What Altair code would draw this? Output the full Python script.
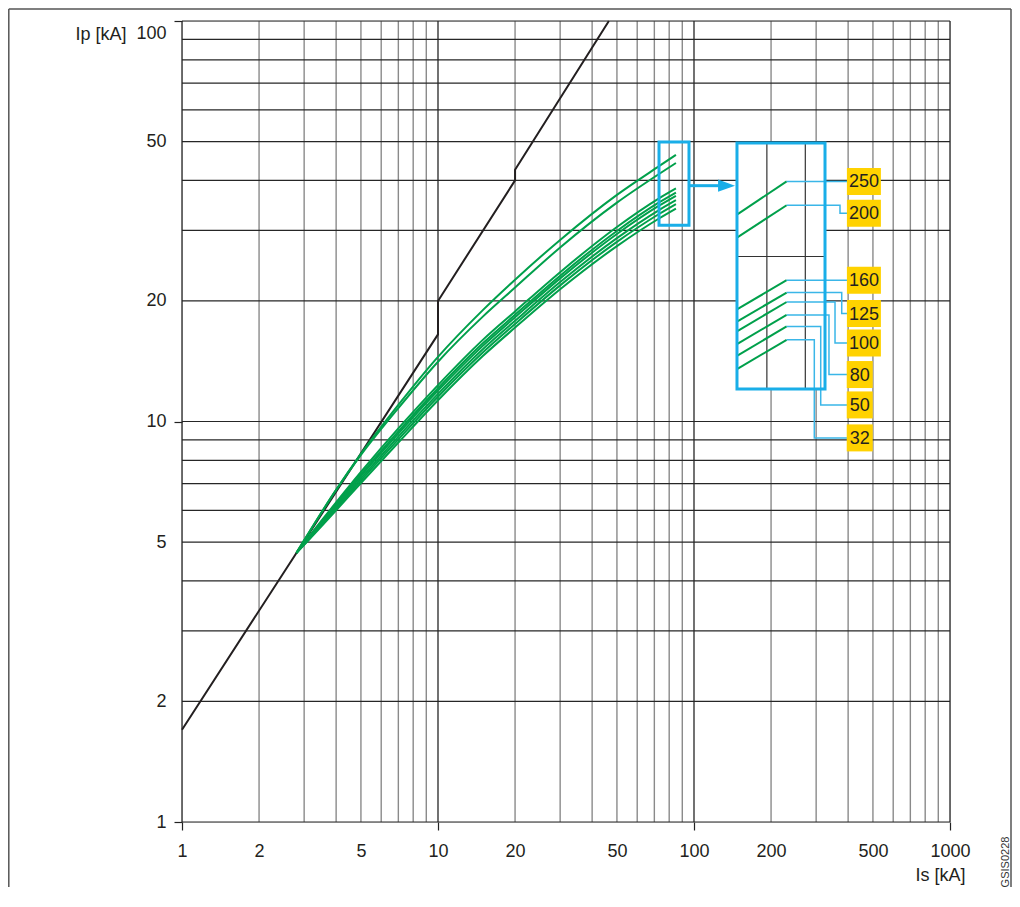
import math
import altair as alt
import pandas as pd

# ---------------- data ----------------
x_minor = [2, 3, 4, 5, 6, 7, 8, 9, 20, 30, 40, 50, 60, 70, 80, 90,
           200, 300, 400, 500, 600, 700, 800, 900]
x_major = [1, 10, 100, 1000]
y_lines = [1, 2, 3, 4, 5, 6, 7, 8, 9, 10, 20, 30, 40, 50, 60, 70, 80, 90, 100]

x_ticks = [1, 2, 5, 10, 20, 50, 100, 200, 500, 1000]
y_ticks = [1, 2, 5, 10, 20, 50, 100]

# peak-current envelope (black)
env_x = [1, 10, 10, 20, 20, 46.5]
env_y = [1.7, 16.5, 20, 40, 42.5, 100]

# let-through curves (green)
curve_x = [2.8, 3, 4, 5, 7, 10, 15, 20, 30, 50, 73, 85]
ratings = ["250", "200", "160", "125", "100", "80", "50", "32"]
curve_y = {
    "250": [4.7, 5.05, 6.75, 8.30, 11.00, 14.50, 19.00, 22.60, 28.40, 36.80, 43.40, 46.30],
    "200": [4.7, 5.05, 6.75, 8.25, 10.80, 14.10, 18.30, 21.60, 27.20, 35.20, 41.50, 44.20],
    "160": [4.7, 4.98, 6.28, 7.48, 9.61, 12.33, 16.01, 18.83, 23.60, 30.60, 36.08, 38.20],
    "125": [4.7, 4.97, 6.22, 7.38, 9.45, 12.11, 15.70, 18.47, 23.13, 29.91, 35.23, 37.29],
    "100": [4.7, 4.96, 6.17, 7.31, 9.33, 11.95, 15.47, 18.20, 22.77, 29.39, 34.58, 36.61],
    "80":  [4.7, 4.94, 6.11, 7.21, 9.17, 11.72, 15.17, 17.84, 22.29, 28.70, 33.73, 35.70],
    "50":  [4.7, 4.93, 6.06, 7.12, 9.02, 11.53, 14.89, 17.52, 21.87, 28.09, 32.97, 34.91],
    "32":  [4.7, 4.92, 6.00, 7.02, 8.86, 11.30, 14.59, 17.16, 21.39, 27.41, 32.13, 34.01],
}

# zoom window (small box) and magnified inset (big box), in kA
small_x = [73, 95.6]
small_y = [30.9, 49.9]
big_x = [147.2, 324.9]
big_y = [12.05, 49.6]
inset_grid_x = [80, 90]
inset_grid_y = [40, 50]

# arrow
arrow_x = [95.6, 125.0]
arrow_head_x = [134.0]
arrow_y = [38.8]

# leader lines and labels
leader_elbow_x = [300.0, 371.8, 300.0, 377.6, 355.5, 336.7, 312.6, 295.1]
label_y = [None, 33.1, None, 18.6, 15.7, 13.1, 11.0, 9.1]
label_left_x = 396.0
label_cx = [461, 461, 461, 461, 461, 444, 444, 444]

# ---------------- helpers ----------------
L = math.log10
kx = (L(big_x[1]) - L(big_x[0])) / (L(small_x[1]) - L(small_x[0]))
ky = (L(big_y[1]) - L(big_y[0])) / (L(small_y[1]) - L(small_y[0]))


def mag_x(v):
    return 10 ** (L(big_x[0]) + (L(v) - L(small_x[0])) * kx)


def mag_y(v):
    return 10 ** (L(big_y[0]) + (L(v) - L(small_y[0])) * ky)


W, H = 768, 801
FONT = "Liberation Sans"
TXT = "#231f20"
GREEN = "#00a04b"
BLUE = "#19aee8"
BLUE2 = "#3ab6e8"
YELLOW = "#ffd200"

xs = alt.Scale(type="log", domain=[1, 1000], nice=False)
ys = alt.Scale(type="log", domain=[1, 100], nice=False)

xaxis = alt.Axis(
    values=x_ticks, grid=False, domain=False, format="d",
    tickSize=8, tickColor="#222", tickWidth=1.2,
    tickOpacity={"condition": {"test": "datum.value == 1 || datum.value == 10 || datum.value == 100 || datum.value == 1000", "value": 1}, "value": 0},
    labelFont=FONT, labelFontSize=18, labelColor=TXT, labelPadding=12,
    labelOverlap=False, labelFlush=False,
    title="Is [kA]", titleFont=FONT, titleFontSize=18, titleFontWeight="normal",
    titleColor=TXT, titleX=783, titleY=53.5, titleAlign="right",
    titleBaseline="middle", titleAngle=0,
)
yaxis = alt.Axis(
    values=y_ticks, grid=False, domain=False, format="d",
    tickSize=8, tickColor="#222", tickWidth=1.2,
    tickOpacity={"condition": {"test": "datum.value == 1 || datum.value == 10 || datum.value == 100", "value": 1}, "value": 0},
    labelFont=FONT, labelFontSize=18, labelColor=TXT, labelPadding=8,
    labelOverlap=False, labelFlush=False,
    labelBaseline={"condition": {"test": "datum.value == 100", "value": "top"}, "value": "middle"},
    labelOffset={"condition": {"test": "datum.value == 100", "value": 3}, "value": 0},
    title="Ip [kA]", titleFont=FONT, titleFontSize=18, titleFontWeight="normal",
    titleColor=TXT, titleX=-56, titleY=13, titleAlign="right",
    titleBaseline="middle", titleAngle=0,
)


def X(f="x"):
    return alt.X(f"{f}:Q", scale=xs, axis=xaxis)


def Y(f="y"):
    return alt.Y(f"{f}:Q", scale=ys, axis=yaxis)


# ---------------- tables ----------------
df_xminor = pd.DataFrame({"x": x_minor})
df_xmajor = pd.DataFrame({"x": x_major})
df_ylines = pd.DataFrame({"y": y_lines})
df_env = pd.DataFrame({"x": env_x, "y": env_y, "o": range(len(env_x))})

rows = []
for r in ratings:
    for i, (xv, yv) in enumerate(zip(curve_x, curve_y[r])):
        rows.append({"r": r, "o": i, "x": xv, "y": yv})
df_curves = pd.DataFrame(rows)

df_small = pd.DataFrame({"x": [small_x[0]], "x2": [small_x[1]], "y": [small_y[0]], "y2": [small_y[1]]})
df_big = pd.DataFrame({"x": [big_x[0]], "x2": [big_x[1]], "y": [big_y[0]], "y2": [big_y[1]]})
df_igx = pd.DataFrame({"x": [mag_x(v) for v in inset_grid_x], "y": [big_y[0]] * 2, "y2": [big_y[1]] * 2})
igy = [mag_y(v) for v in inset_grid_y if mag_y(v) <= big_y[1]]
df_igy = pd.DataFrame({"y": igy, "x": [big_x[0]] * len(igy), "x2": [big_x[1]] * len(igy)})

rows = []
for r in ratings:
    ys_ = curve_y[r]
    rows.append({"r": r, "o": 0, "x": mag_x(curve_x[-2]), "y": mag_y(ys_[-2])})
    rows.append({"r": r, "o": 1, "x": mag_x(curve_x[-1]), "y": mag_y(ys_[-1])})
df_inset_curves = pd.DataFrame(rows)

rows = []
lab_rows = []
for i, r in enumerate(ratings):
    y0 = mag_y(curve_y[r][-1])
    ly = label_y[i] if label_y[i] is not None else y0
    x0 = mag_x(curve_x[-1])
    ex = leader_elbow_x[i]
    pts = [(x0, y0), (ex, y0), (ex, ly), (label_left_x, ly)]
    for j, (a, b) in enumerate(pts):
        rows.append({"r": r, "o": j, "x": a, "y": b})
    lab_rows.append({"r": r, "x": label_cx[i], "y": ly, "w": len(r)})
df_leaders = pd.DataFrame(rows)
df_labels = pd.DataFrame(lab_rows)

df_arrow = pd.DataFrame({"x": [arrow_x[0]], "x2": [arrow_x[1]], "y": arrow_y})
df_head = pd.DataFrame({"x": arrow_head_x, "y": arrow_y})

# ---------------- layers ----------------
grid_minor = alt.Chart(df_xminor).mark_rule(color="#8a8a8a", strokeWidth=1.4).encode(
    x=X(), y=alt.value(0), y2=alt.value(H))
grid_h = alt.Chart(df_ylines).mark_rule(color="#262626", strokeWidth=1.2).encode(
    y=Y(), x=alt.value(0), x2=alt.value(W))
grid_major = alt.Chart(df_xmajor).mark_rule(color="#262626", strokeWidth=1.3).encode(
    x=X(), y=alt.value(0), y2=alt.value(H))

envelope = alt.Chart(df_env).mark_line(color="#231f20", strokeWidth=2).encode(
    x=X(), y=Y(), order="o:Q")

curves = alt.Chart(df_curves).mark_line(color=GREEN, strokeWidth=2, interpolate="monotone").encode(
    x=X(), y=Y(), detail="r:N", order="o:Q")

small_box = alt.Chart(df_small).mark_rect(fillOpacity=0, stroke=BLUE, strokeWidth=3).encode(
    x=X(), x2="x2:Q", y=Y(), y2="y2:Q")

arrow = alt.Chart(df_arrow).mark_rule(color=BLUE, strokeWidth=3).encode(
    x=X(), x2="x2:Q", y=Y())
head = alt.Chart(df_head).mark_point(
    shape="M-1,-0.72L1,0L-1,0.72Z", size=289, filled=True, color=BLUE, opacity=1, strokeWidth=0
).encode(x=X(), y=Y())

big_fill = alt.Chart(df_big).mark_rect(fill="white", strokeWidth=0).encode(
    x=X(), x2="x2:Q", y=Y(), y2="y2:Q")
inset_gx = alt.Chart(df_igx).mark_rule(color="#333", strokeWidth=1.2).encode(
    x=X(), y=Y(), y2="y2:Q")
inset_gy = alt.Chart(df_igy).mark_rule(color="#333", strokeWidth=1.2).encode(
    y=Y(), x=X(), x2="x2:Q")
inset_curves = alt.Chart(df_inset_curves).mark_line(color=GREEN, strokeWidth=2).encode(
    x=X(), y=Y(), detail="r:N", order="o:Q")
leaders = alt.Chart(df_leaders).mark_line(color=BLUE2, strokeWidth=1.5).encode(
    x=X(), y=Y(), detail="r:N", order="o:Q")
big_frame = alt.Chart(df_big).mark_rect(fillOpacity=0, stroke=BLUE, strokeWidth=3).encode(
    x=X(), x2="x2:Q", y=Y(), y2="y2:Q")

lab3 = alt.Chart(df_labels).transform_filter("datum.w == 3").mark_point(
    shape="M-1,-0.794L1,-0.794L1,0.794L-1,0.794Z", size=1156, filled=True,
    color=YELLOW, opacity=1, strokeWidth=0).encode(x=X(), y=Y())
lab2 = alt.Chart(df_labels).transform_filter("datum.w == 2").mark_point(
    shape="M-0.963,-1L0.963,-1L0.963,1L-0.963,1Z", size=729, filled=True,
    color=YELLOW, opacity=1, strokeWidth=0).encode(x=X(), y=Y())
lab_text = alt.Chart(df_labels).mark_text(
    font=FONT, fontSize=18, color=TXT, align="center", baseline="middle", dy=1
).encode(x=X(), y=Y(), text="r:N")

code_txt = alt.Chart(pd.DataFrame({"t": ["GSIS0228"]})).mark_text(
    font=FONT, fontSize=11, color="#333", angle=270, align="center", baseline="middle"
).encode(text="t:N", x=alt.value(823.5), y=alt.value(841))

frame_l = alt.Chart(pd.DataFrame({"a": [0]})).mark_rule(color="#555", strokeWidth=1.5).encode(
    x=alt.value(-173.2), y=alt.value(-12), y2=alt.value(866))
frame_t = alt.Chart(pd.DataFrame({"a": [0]})).mark_rule(color="#555", strokeWidth=1.5).encode(
    y=alt.value(-12), x=alt.value(-173.2), x2=alt.value(829))
frame_r = alt.Chart(pd.DataFrame({"a": [0]})).mark_rule(color="#555", strokeWidth=1.5).encode(
    x=alt.value(829), y=alt.value(-12), y2=alt.value(866))

chart = alt.layer(
    grid_minor, grid_h, grid_major, envelope, curves, small_box, arrow, head,
    big_fill, inset_gx, inset_gy, inset_curves, leaders, big_frame,
    lab3, lab2, lab_text, code_txt, frame_l, frame_t, frame_r,
).properties(
    width=W, height=H,
    autosize=alt.AutoSizeParams(type="none"),
    padding={"left": 174, "top": 13, "right": 62, "bottom": 66},
).configure_view(stroke=None).configure(background="white")

chart.save("out.html", embed_options={"renderer": "svg", "actions": False})
